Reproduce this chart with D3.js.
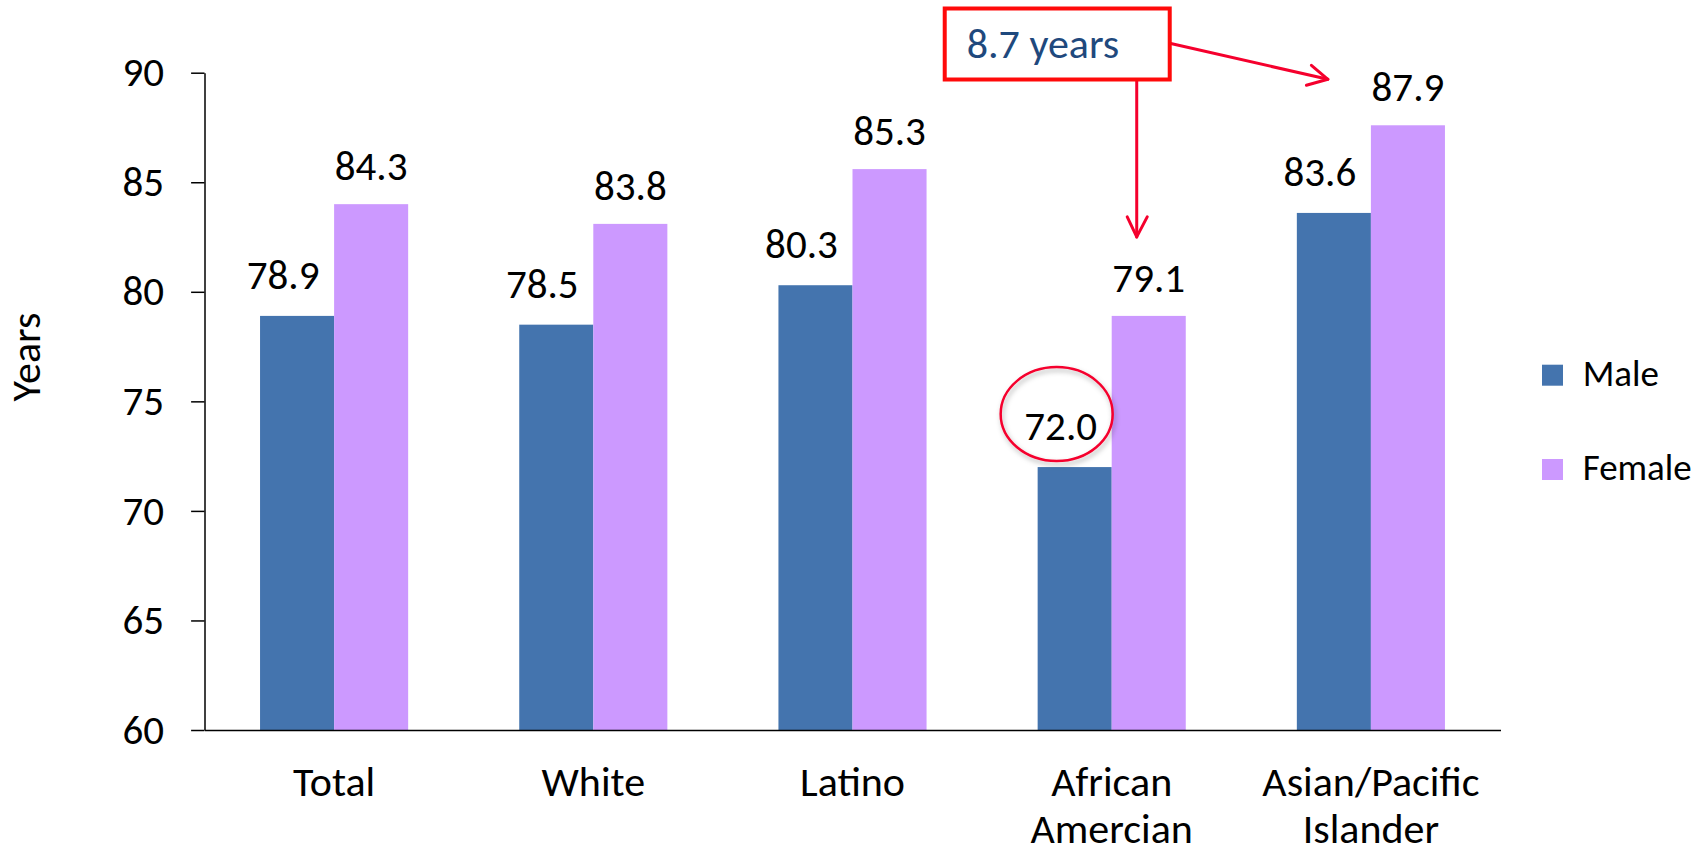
<!DOCTYPE html>
<html>
<head>
<meta charset="utf-8">
<script src="https://cdn.jsdelivr.net/npm/d3@7"></script>
<style>
  html, body { margin: 0; padding: 0; background: #fff; }
  svg { display: block; }
  text { font-family: Calibri, Carlito, Lato, sans-serif; fill: #000; }
</style>
</head>
<body>
<svg id="chart" width="1707" height="855"></svg>
<script>
// ---- data ----
const categories = ["Total", "White", "Latino", "African\nAmercian", "Asian/Pacific\nIslander"];
const series = ["Male", "Female"];
const maleValues = [78.9, 78.5, 80.3, 72.0, 83.6];
const femaleValues = [84.0, 83.1, 85.6, 78.9, 87.6];
const maleLabels = ["78.9", "78.5", "80.3", "72.0", "83.6"];
const femaleLabels = ["84.3", "83.8", "85.3", "79.1", "87.9"];
const yTicks = [60, 65, 70, 75, 80, 85, 90];
const yTitle = "Years";
const annotationText = "8.7 years";
const highlightCategory = "African\nAmercian";
const targetCategory = "Asian/Pacific\nIslander";

// ---- styles ----
const colors = { Male: "#4474AE", Female: "#CC99FF" };
const redColor = "#F5002D";
const boxColor = "#FF0A0A";
const noteColor = "#1F497D";
const fontSize = 41;

const svg = d3.select("#chart");
const plot = { left: 204.5, right: 1500.5, top: 72.7, bottom: 730 };

const x0 = d3.scaleBand().domain(categories).range([plot.left, plot.right]).paddingInner(0).paddingOuter(0);
const x1 = d3.scaleBand().domain(series).range([0, x0.bandwidth()]).paddingInner(0).paddingOuter(0.75);
const y = d3.scaleLinear().domain([60, 90]).range([plot.bottom, plot.top]);

const rows = categories.map((c, i) => ({
  cat: c,
  Male: { v: maleValues[i], label: maleLabels[i] },
  Female: { v: femaleValues[i], label: femaleLabels[i] }
}));

// bars
const groups = svg.append("g").selectAll("g").data(rows).join("g")
  .attr("transform", d => `translate(${x0(d.cat)},0)`);

groups.selectAll("rect").data(d => series.map(s => ({ s, v: d[s].v })))
  .join("rect")
  .attr("x", d => x1(d.s))
  .attr("width", x1.bandwidth())
  .attr("y", d => y(d.v))
  .attr("height", d => y(60) - y(d.v))
  .attr("fill", d => colors[d.s]);

// data labels
const labelOffset = { Male: { dx: -14, dy: -27 }, Female: { dx: 0, dy: -24 } };
groups.selectAll("text.lbl").data(d => series.map(s => ({ s, v: d[s].v, label: d[s].label })))
  .join("text")
  .attr("class", "lbl")
  .attr("x", d => x1(d.s) + x1.bandwidth() / 2 + labelOffset[d.s].dx)
  .attr("y", d => y(d.v) + labelOffset[d.s].dy)
  .attr("text-anchor", "middle")
  .style("font-size", fontSize + "px")
  .text(d => d.label);

// y axis
const yAxis = svg.append("g")
  .attr("transform", `translate(${plot.left},0)`)
  .call(d3.axisLeft(y).tickValues(yTicks).tickSize(13.4).tickSizeOuter(0).tickPadding(27));
yAxis.selectAll("text").style("font-size", fontSize + "px").attr("fill", "#000")
  .attr("font-family", null);
yAxis.selectAll("line, path").attr("stroke", "#000").attr("stroke-width", 1.5);

// x axis
const xAxis = svg.append("g")
  .attr("transform", `translate(0,${plot.bottom})`)
  .call(d3.axisBottom(x0).tickSize(0).tickSizeOuter(0));
xAxis.selectAll("path").attr("stroke", "#000").attr("stroke-width", 1.5);
xAxis.selectAll(".tick text").each(function (d) {
  const t = d3.select(this);
  t.text(null).attr("dy", null).attr("y", 0).attr("fill", "#000").attr("font-family", null)
    .style("font-size", "42px");
  d.split("\n").forEach((line, i) => {
    t.append("tspan").attr("x", 0).attr("y", 66 + i * 47).text(line);
  });
});

// y title
svg.append("text")
  .attr("transform", `translate(40,357) rotate(-90)`)
  .attr("text-anchor", "middle")
  .style("font-size", "42px")
  .text(yTitle);

// legend
const legend = svg.append("g").attr("transform", "translate(1542,364.7)");
const li = legend.selectAll("g").data(series).join("g")
  .attr("transform", (d, i) => `translate(0,${i * 94.3})`);
li.append("rect").attr("width", 21).attr("height", 21).attr("fill", d => colors[d]);
li.append("text").attr("x", 40.7).attr("y", 21.3).style("font-size", "37px").text(d => d);

// ---- annotations ----
const defs = svg.append("defs");
const f = defs.append("filter").attr("id", "shadow").attr("x", "-20%").attr("y", "-20%").attr("width", "140%").attr("height", "150%");
f.append("feDropShadow").attr("dx", 1.5).attr("dy", 3).attr("stdDeviation", 2.5)
  .attr("flood-color", "#000").attr("flood-opacity", 0.3);

// ellipse around highlighted male label
const hi = categories.indexOf(highlightCategory);
const hiBarX = x0(highlightCategory) + x1("Male") + x1.bandwidth() / 2;
svg.append("ellipse")
  .attr("cx", hiBarX - 18).attr("cy", y(maleValues[hi]) - 53)
  .attr("rx", 56).attr("ry", 47)
  .attr("fill", "none").attr("stroke", redColor).attr("stroke-width", 2.5)
  .attr("filter", "url(#shadow)");

// box and arrows
const femHiX = x0(highlightCategory) + x1("Female") + x1.bandwidth() / 2;
const femHiLabelY = y(femaleValues[hi]) + labelOffset.Female.dy;
const arrowX = femHiX - 12;
const boxRight = arrowX + 33, boxLeft = boxRight - 225, boxTop = 8.5, boxBottom = 79.5;

const ti = categories.indexOf(targetCategory);
const tgtLeft = x0(targetCategory) + x1("Female");
const tgtLabelY = y(femaleValues[ti]) + labelOffset.Female.dy;

const arrows = svg.append("g").attr("fill", "none").attr("stroke", redColor)
  .attr("stroke-width", 3).attr("stroke-linecap", "round").attr("stroke-linejoin", "round");

// down arrow
const downTip = [arrowX, femHiLabelY - 55];
arrows.append("line").attr("x1", arrowX).attr("y1", boxBottom).attr("x2", downTip[0]).attr("y2", downTip[1]);
arrows.append("polyline").attr("points", [
  [downTip[0] - 9.5, downTip[1] - 20], downTip, [downTip[0] + 10.5, downTip[1] - 20]
].map(p => p.join(",")).join(" "));

// right arrow
const rStart = [boxRight, 43.3];
const rTip = [tgtLeft - 43, tgtLabelY - 22];
arrows.append("line").attr("x1", rStart[0]).attr("y1", rStart[1]).attr("x2", rTip[0]).attr("y2", rTip[1]);
arrows.append("polyline").attr("points", [
  [rTip[0] - 16.5, rTip[1] - 14], rTip, [rTip[0] - 21.5, rTip[1] + 6]
].map(p => p.join(",")).join(" "));

svg.append("rect")
  .attr("x", boxLeft).attr("y", boxTop)
  .attr("width", boxRight - boxLeft).attr("height", boxBottom - boxTop)
  .attr("fill", "#fff").attr("stroke", boxColor).attr("stroke-width", 4);

svg.append("text")
  .attr("x", boxLeft + 22).attr("y", 58.3)
  .style("font-size", "42px").attr("fill", noteColor).style("fill", noteColor)
  .text(annotationText);
</script>
</body>
</html>
